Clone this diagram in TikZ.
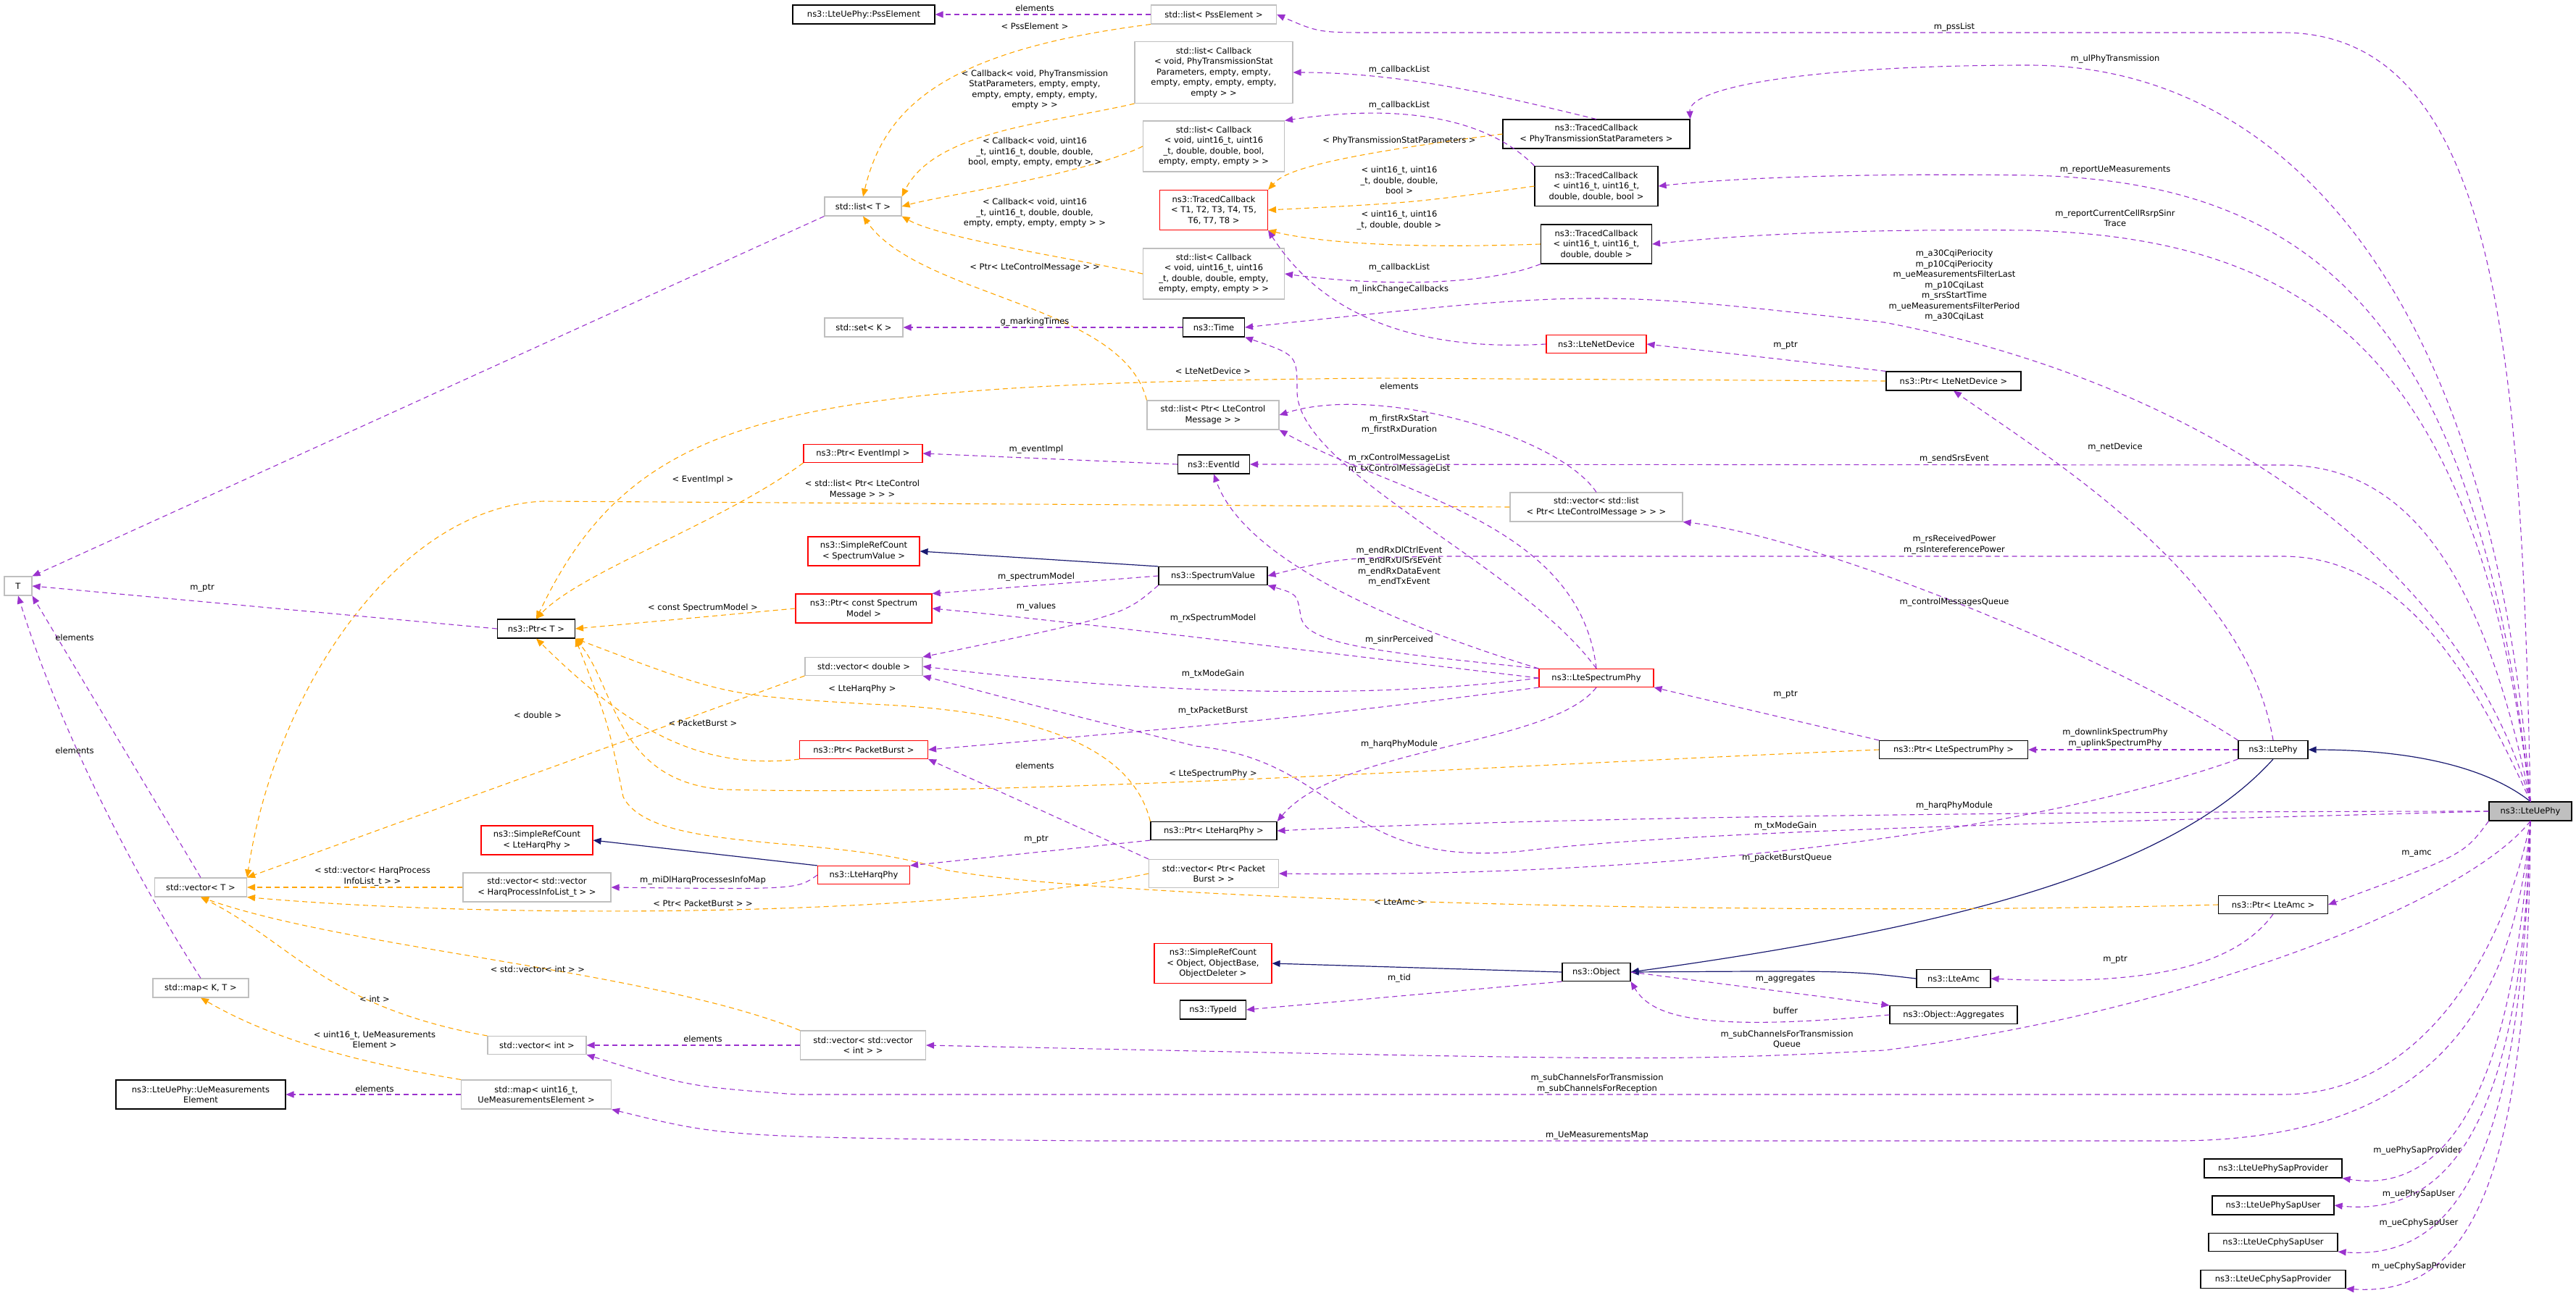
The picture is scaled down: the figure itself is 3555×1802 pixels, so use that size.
\documentclass[tikz,border=0pt]{standalone}
\usepackage{fontspec}
\setmainfont{DejaVu Sans}
\usetikzlibrary{arrows.meta}
\definecolor{mpurple}{HTML}{9A32CD}
\definecolor{morange}{HTML}{FFA500}
\definecolor{mnavy}{HTML}{191970}
\newcommand{\nf}{\fontsize{11.5}{14.5}\selectfont}
\tikzset{
 cls/.style={draw=black, fill=white, line width=1.1pt, inner sep=2pt, align=center, font=\nf},
 und/.style={cls, draw=black!25},
 trunc/.style={cls, draw=red},
 lbl/.style={font=\nf, align=center, inner sep=0pt},
 mem/.style={draw=mpurple, line width=1.1pt, dash pattern=on 7pt off 5pt, -{Triangle[length=11pt,width=9pt]}},
 tmpl/.style={draw=morange, line width=1.1pt, dash pattern=on 7pt off 5pt, -{Triangle[length=11pt,width=9pt]}},
 inh/.style={draw=mnavy, line width=1.2pt, -{Triangle[length=11pt,width=9pt]}}
}
\begin{document}
\begin{tikzpicture}[x=1pt,y=-1pt]
\useasboundingbox (0,0) rectangle (3555,1802);
% nodes
\node[cls,minimum width=196,minimum height=26] (pssel) at (1192,20) {ns3::LteUePhy::PssElement};
\node[und,minimum width=106,minimum height=26] (listT) at (1191,285) {std::list< T >};
\node[und,minimum width=108,minimum height=26] (setK) at (1192,452) {std::set< K >};
\node[und,minimum width=173,minimum height=26] (listPss) at (1675,20) {std::list< PssElement >};
\node[und,minimum width=218,minimum height=85] (listCbA) at (1675,100) {std::list< Callback\\< void, PhyTransmissionStat\\Parameters, empty, empty,\\empty, empty, empty, empty,\\empty > >};
\node[und,minimum width=195,minimum height=70] (listCbB) at (1675,202) {std::list< Callback\\< void, uint16\_t, uint16\\\_t, double, double, bool,\\empty, empty, empty > >};
\node[trunc,minimum width=149,minimum height=55] (tcT) at (1675,290) {ns3::TracedCallback\\< T1, T2, T3, T4, T5,\\T6, T7, T8 >};
\node[und,minimum width=195,minimum height=70] (listCbC) at (1675,378) {std::list< Callback\\< void, uint16\_t, uint16\\\_t, double, double, empty,\\empty, empty, empty > >};
\node[cls,minimum width=85,minimum height=26] (timeN) at (1675,452) {ns3::Time};
\node[cls,minimum width=258,minimum height=40] (tcA) at (2203,185) {ns3::TracedCallback\\< PhyTransmissionStatParameters >};
\node[cls,minimum width=170,minimum height=55] (tcB) at (2203,257) {ns3::TracedCallback\\< uint16\_t, uint16\_t,\\double, double, bool >};
\node[cls,minimum width=153,minimum height=54] (tcC) at (2203,337) {ns3::TracedCallback\\< uint16\_t, uint16\_t,\\double, double >};
\node[trunc,minimum width=138,minimum height=25] (netdev) at (2203,475) {ns3::LteNetDevice};
\node[und,minimum width=182,minimum height=40] (listMsg) at (1674,573) {std::list< Ptr< LteControl\\Message > >};
\node[cls,minimum width=186,minimum height=26] (ptrNet) at (2696,526) {ns3::Ptr< LteNetDevice >};
\node[und,minimum width=38,minimum height=26] (T) at (25,809) {T};
\node[cls,minimum width=107,minimum height=26] (ptrT) at (740,868) {ns3::Ptr< T >};
\node[trunc,minimum width=164,minimum height=25] (ptrEv) at (1191,626) {ns3::Ptr< EventImpl >};
\node[trunc,minimum width=154,minimum height=40] (srcSV) at (1192,761) {ns3::SimpleRefCount\\< SpectrumValue >};
\node[trunc,minimum width=188,minimum height=40] (ptrSM) at (1192,840) {ns3::Ptr< const Spectrum\\Model >};
\node[und,minimum width=162,minimum height=25] (vecD) at (1192,920) {std::vector< double >};
\node[trunc,minimum width=177,minimum height=25] (ptrPB) at (1192,1035) {ns3::Ptr< PacketBurst >};
\node[trunc,minimum width=154,minimum height=40] (srcHarq) at (741,1160) {ns3::SimpleRefCount\\< LteHarqPhy >};
\node[trunc,minimum width=127,minimum height=25] (harq) at (1192,1208) {ns3::LteHarqPhy};
\node[cls,minimum width=99,minimum height=26] (evid) at (1675,641) {ns3::EventId};
\node[und,minimum width=238,minimum height=40] (vecListMsg) at (2203,700) {std::vector< std::list\\< Ptr< LteControlMessage > > >};
\node[cls,minimum width=150,minimum height=25] (sv) at (1674,795) {ns3::SpectrumValue};
\node[trunc,minimum width=158,minimum height=25] (lsp) at (2203,936) {ns3::LteSpectrumPhy};
\node[cls,minimum width=174,minimum height=25] (ptrHarq) at (1675,1147) {ns3::Ptr< LteHarqPhy >};
\node[und,minimum width=179,minimum height=39] (vecPB) at (1675,1206) {std::vector< Ptr< Packet\\Burst > >};
\node[cls,minimum width=205,minimum height=25] (ptrLSP) at (2696,1035) {ns3::Ptr< LteSpectrumPhy >};
\node[cls,minimum width=96,minimum height=25] (ltephy) at (3137,1035) {ns3::LtePhy};
\node[cls,fill=black!25,minimum width=114,minimum height=26] (ue) at (3492,1120) {ns3::LteUePhy};
\node[und,minimum width=127,minimum height=26] (vecT) at (277,1225) {std::vector< T >};
\node[und,minimum width=204,minimum height=40] (vecVecHarq) at (741,1225) {std::vector< std::vector\\< HarqProcessInfoList\_t > >};
\node[und,minimum width=132,minimum height=26] (mapKT) at (277,1364) {std::map< K, T >};
\node[und,minimum width=136,minimum height=25] (vecInt) at (741,1443) {std::vector< int >};
\node[und,minimum width=173,minimum height=40] (vecVecInt) at (1191,1443) {std::vector< std::vector\\< int > >};
\node[cls,minimum width=234,minimum height=40] (uemeasEl) at (277,1511) {ns3::LteUePhy::UeMeasurements\\Element};
\node[und,minimum width=207,minimum height=40] (mapUe) at (740,1511) {std::map< uint16\_t,\\UeMeasurementsElement >};
\node[trunc,minimum width=162,minimum height=55] (srcObj) at (1674,1330) {ns3::SimpleRefCount\\< Object, ObjectBase,\\ObjectDeleter >};
\node[cls,minimum width=94,minimum height=25] (obj) at (2203,1342) {ns3::Object};
\node[cls,minimum width=91,minimum height=26] (typeid) at (1674,1394) {ns3::TypeId};
\node[cls,minimum width=151,minimum height=25] (ptrAmc) at (3137,1249) {ns3::Ptr< LteAmc >};
\node[cls,minimum width=102,minimum height=25] (amc) at (2696,1351) {ns3::LteAmc};
\node[cls,minimum width=176,minimum height=25] (aggr) at (2696,1401) {ns3::Object::Aggregates};
\node[cls,minimum width=190,minimum height=26] (sapA) at (3137,1613) {ns3::LteUePhySapProvider};
\node[cls,minimum width=168,minimum height=26] (sapB) at (3137,1664) {ns3::LteUePhySapUser};
\node[cls,minimum width=178,minimum height=25] (sapC) at (3137,1715) {ns3::LteUeCphySapUser};
\node[cls,minimum width=200,minimum height=25] (sapD) at (3137,1766) {ns3::LteUeCphySapProvider};

% navy inheritance
\draw[inh] (sv.north west) -- (srcSV.east);
\draw[inh] (harq.north west) -- (srcHarq.east);
\draw[inh] (obj.west) -- (srcObj.east);
\draw[inh] (ltephy.south) .. controls (3000,1200) and (2700,1280) .. (obj.east);
\draw[inh] (amc.west) .. controls (2550,1340) .. (obj.east);
\draw[inh] (ue.north) .. controls (3420,1050) and (3300,1035) .. (ltephy.east);

% orange templates
\draw[tmpl] (listPss.south west) .. controls (1300,70) and (1220,150) .. (listT.north);
\draw[tmpl] (listCbA.south west) .. controls (1450,170) and (1290,180) .. (listT.north east);
\draw[tmpl] (listCbB.west) .. controls (1500,240) and (1300,270) .. (listT.east);
\draw[tmpl] (listCbC.west) .. controls (1500,360) and (1300,330) .. (listT.south east);
\draw[tmpl] (listMsg.north west) .. controls (1550,420) and (1270,410) .. (listT.south);
\draw[tmpl] (tcA.west) .. controls (1800,220) and (1770,240) .. (tcT.north east);
\draw[tmpl] (tcB.west) .. controls (1950,280) .. (tcT.east);
\draw[tmpl] (tcC.west) .. controls (1900,345) and (1800,330) .. (tcT.south east);
\draw[tmpl] (ptrNet.west) -- (1900,522) .. controls (1100,530) and (880,560) .. (ptrT.north);
\draw[tmpl] (ptrEv.south west) .. controls (1000,720) and (800,790) .. (ptrT.north);
\draw[tmpl] (vecListMsg.west) -- (750,692) .. controls (550,700) and (380,950) .. (vecT.north east);
\draw[tmpl] (ptrSM.west) -- (ptrT.east);
\draw[tmpl] (vecD.south west) -- (vecT.north east);
\draw[tmpl] (ptrPB.south west) .. controls (960,1065) and (860,1000) .. (ptrT.south);
\draw[tmpl] (ptrHarq.north west) .. controls (1560,1020) and (1400,980) .. (1200,972) .. controls (1000,960) .. (ptrT.south east);
\draw[tmpl] (ptrLSP.west) .. controls (2000,1060) and (1400,1100) .. (1000,1090) .. controls (850,1080) and (850,950) .. (ptrT.south east);
\draw[tmpl] (ptrAmc.west) .. controls (2400,1267) and (1500,1240) .. (1300,1200) .. controls (1150,1150) and (900,1180) .. (860,1100) .. controls (840,1000) .. (ptrT.south east);
\draw[tmpl] (vecVecHarq.west) -- (vecT.east);
\draw[tmpl] (vecPB.west) .. controls (1300,1265) and (700,1270) .. (vecT.south east);
\draw[tmpl] (vecVecInt.north west) .. controls (900,1340) and (480,1310) .. (vecT.south);
\draw[tmpl] (vecInt.north west) .. controls (450,1390) and (400,1300) .. (vecT.south);
\draw[tmpl] (mapUe.north west) .. controls (450,1460) and (350,1420) .. (mapKT.south);

% purple members
\draw[mem] (listPss.west) -- (pssel.east);
\draw[mem] (ue.north) .. controls (3480,500) and (3450,45) .. (3150,45) -- (1900,45) .. controls (1820,45) .. (listPss.east);
\draw[mem] (listT.south west) -- (T.north east);
\draw[mem] (tcA.north) .. controls (2100,140) and (1950,100) .. (listCbA.east);
\draw[mem] (tcB.north west) .. controls (2060,170) and (1950,140) .. (listCbB.north east);
\draw[mem] (tcC.south west) .. controls (2050,395) and (1900,395) .. (listCbC.east);
\draw[mem] (ue.north) .. controls (3440,400) and (3150,90) .. (2800,90) .. controls (2500,90) and (2330,120) .. (tcA.north east);
\draw[mem] (ue.north) .. controls (3420,450) and (3200,250) .. (2800,242) .. controls (2500,238) and (2350,250) .. (tcB.east);
\draw[mem] (ue.north) .. controls (3420,500) and (3200,330) .. (2800,318) .. controls (2500,315) and (2350,330) .. (tcC.east);
\draw[mem] (ue.north) .. controls (3390,750) and (3000,520) .. (2600,445) .. controls (2200,400) .. (timeN.east);
\draw[mem] (timeN.west) -- (setK.east);
\draw[mem] (netdev.west) .. controls (1880,490) and (1790,380) .. (tcT.south east);
\draw[mem] (ptrNet.north west) -- (netdev.east);
\draw[mem] (ltephy.north) .. controls (3100,800) and (2840,640) .. (ptrNet.south);
\draw[mem] (vecListMsg.north) .. controls (2150,600) and (1900,530) .. (listMsg.east);
\draw[mem] (lsp.north) .. controls (2100,780) and (1790,650) .. (1790,540) .. controls (1790,490) .. (timeN.south east);
\draw[mem] (evid.west) -- (ptrEv.east);
\draw[mem] (lsp.north) .. controls (2180,720) and (1920,680) .. (listMsg.south east);
\draw[mem] (ue.north) .. controls (3420,750) and (3300,642) .. (3150,642) -- (evid.east);
\draw[mem] (lsp.north west) .. controls (1950,870) and (1720,780) .. (evid.south);
\draw[mem] (ltephy.north west) .. controls (2900,900) and (2500,740) .. (vecListMsg.south east);
\draw[mem] (ue.north) .. controls (3400,900) and (3300,768) .. (3150,768) -- (2000,768) .. controls (1850,770) .. (sv.east);
\draw[mem] (sv.west) -- (ptrSM.north east);
\draw[mem] (sv.south west) .. controls (1550,850) .. (vecD.north east);
\draw[mem] (lsp.west) .. controls (1900,910) and (1500,860) .. (ptrSM.east);
\draw[mem] (lsp.north west) .. controls (1900,900) and (1800,890) .. (1795,850) .. controls (1790,820) .. (sv.south east);
\draw[mem] (lsp.west) .. controls (1900,965) and (1600,960) .. (vecD.east);
\draw[mem] (lsp.south west) .. controls (1800,990) .. (ptrPB.east);
\draw[mem] (lsp.south) .. controls (2140,1030) and (1850,1030) .. (ptrHarq.north east);
\draw[mem] (ue.west) .. controls (3000,1120) and (2200,1125) .. (ptrHarq.east);
\draw[mem] (ptrLSP.north west) -- (lsp.south east);
\draw[mem] (ltephy.west) -- (ptrLSP.east);
\draw[mem] (ptrT.west) -- (T.east);
\draw[mem] (vecPB.north west) -- (ptrPB.south east);
\draw[mem] (ptrHarq.south west) -- (harq.north east);
\draw[mem] (harq.west) .. controls (1100,1228) .. (vecVecHarq.east);
\draw[mem] (ltephy.south west) .. controls (2800,1150) and (2300,1212) .. (vecPB.east);
\draw[mem] (ue.west) .. controls (2900,1135) and (2350,1145) .. (2100,1175) .. controls (1850,1200) and (1850,1050) .. (1650,1030) .. controls (1450,980) .. (vecD.south east);
\draw[mem] (vecT.north) -- (T.south east);
\draw[mem] (mapKT.north) .. controls (180,1200) and (80,1000) .. (T.south);
\draw[mem] (vecVecInt.west) -- (vecInt.east);
\draw[mem] (ue.south) .. controls (3460,1300) and (3350,1511) .. (3150,1511) -- (1100,1511) .. controls (950,1500) .. (vecInt.south east);
\draw[mem] (ue.south) .. controls (3400,1250) and (3000,1400) .. (2600,1450) .. controls (2300,1465) .. (vecVecInt.east);
\draw[mem] (mapUe.west) -- (uemeasEl.east);
\draw[mem] (ue.south) .. controls (3470,1400) and (3350,1575) .. (3000,1575) -- (1500,1575) .. controls (1000,1570) .. (mapUe.south east);
\draw[mem] (obj.south west) -- (typeid.east);
\draw[mem] (obj.east) -- (aggr.north west);
\draw[mem] (aggr.west) .. controls (2350,1425) and (2280,1405) .. (obj.south east);
\draw[mem] (ue.south west) .. controls (3400,1180) .. (ptrAmc.east);
\draw[mem] (ptrAmc.south) .. controls (3080,1340) and (2950,1360) .. (amc.east);
\draw[mem] (ue.south) .. controls (3470,1500) and (3380,1650) .. (sapA.south east);
\draw[mem] (ue.south) .. controls (3480,1550) and (3380,1680) .. (sapB.east);
\draw[mem] (ue.south) .. controls (3480,1600) and (3390,1740) .. (sapC.south east);
\draw[mem] (ue.south) .. controls (3490,1650) and (3400,1790) .. (sapD.south east);

% labels
\node[lbl] (l1) at (1428,11) {elements};
\node[lbl] (l2) at (1428,36) {< PssElement >};
\node[lbl] (l3) at (1428,124) {< Callback< void, PhyTransmission\\StatParameters, empty, empty,\\empty, empty, empty, empty,\\empty > >};
\node[lbl] (l4) at (1931,96) {m\_callbackList};
\node[lbl] (l5) at (1931,145) {m\_callbackList};
\node[lbl] (l6) at (1428,210) {< Callback< void, uint16\\\_t, uint16\_t, double, double,\\bool, empty, empty, empty > >};
\node[lbl] (l7) at (1931,194) {< PhyTransmissionStatParameters >};
\node[lbl] (l8) at (1931,249) {< uint16\_t, uint16\\\_t, double, double,\\bool >};
\node[lbl] (l9) at (1428,294) {< Callback< void, uint16\\\_t, uint16\_t, double, double,\\empty, empty, empty, empty > >};
\node[lbl] (l10) at (1931,304) {< uint16\_t, uint16\\\_t, double, double >};
\node[lbl] (l11) at (1428,369) {< Ptr< LteControlMessage > >};
\node[lbl] (l12) at (1931,369) {m\_callbackList};
\node[lbl] (l13) at (1931,399) {m\_linkChangeCallbacks};
\node[lbl] (l14) at (1428,444) {g\_markingTimes};
\node[lbl] (l15) at (1674,512) {< LteNetDevice >};
\node[lbl] (l16) at (1931,533) {elements};
\node[lbl] (l17) at (1931,586) {m\_firstRxStart\\m\_firstRxDuration};
\node[lbl] (l18) at (2697,37) {m\_pssList};
\node[lbl] (l19) at (2919,81) {m\_ulPhyTransmission};
\node[lbl] (l20) at (2919,235) {m\_reportUeMeasurements};
\node[lbl] (l21) at (2919,301) {m\_reportCurrentCellRsrpSinr\\Trace};
\node[lbl] (l22) at (2697,394) {m\_a30CqiPeriocity\\m\_p10CqiPeriocity\\m\_ueMeasurementsFilterLast\\m\_p10CqiLast\\m\_srsStartTime\\m\_ueMeasurementsFilterPeriod\\m\_a30CqiLast};
\node[lbl] (l23) at (2464,477) {m\_ptr};
\node[lbl] (l24) at (279,812) {m\_ptr};
\node[lbl] (l25) at (103,880) {elements};
\node[lbl] (l26) at (103,1036) {elements};
\node[lbl] (l27) at (970,662) {< EventImpl >};
\node[lbl] (l28) at (1190,676) {< std::list< Ptr< LteControl\\Message > > >};
\node[lbl] (l29) at (970,839) {< const SpectrumModel >};
\node[lbl] (l30) at (1190,951) {< LteHarqPhy >};
\node[lbl] (l31) at (742,987) {< double >};
\node[lbl] (l32) at (970,998) {< PacketBurst >};
\node[lbl] (l33) at (1430,620) {m\_eventImpl};
\node[lbl] (l34) at (1931,640) {m\_rxControlMessageList\\m\_txControlMessageList};
\node[lbl] (l35) at (1931,782) {m\_endRxDlCtrlEvent\\m\_endRxUlSrsEvent\\m\_endRxDataEvent\\m\_endTxEvent};
\node[lbl] (l36) at (1430,796) {m\_spectrumModel};
\node[lbl] (l37) at (1430,837) {m\_values};
\node[lbl] (l38) at (1674,853) {m\_rxSpectrumModel};
\node[lbl] (l39) at (1931,883) {m\_sinrPerceived};
\node[lbl] (l40) at (1674,930) {m\_txModeGain};
\node[lbl] (l41) at (1674,981) {m\_txPacketBurst};
\node[lbl] (l42) at (1931,1027) {m\_harqPhyModule};
\node[lbl] (l43) at (1428,1057) {elements};
\node[lbl] (l44) at (1674,1068) {< LteSpectrumPhy >};
\node[lbl] (l45) at (1430,1159) {m\_ptr};
\node[lbl] (l46) at (2919,617) {m\_netDevice};
\node[lbl] (l47) at (2697,633) {m\_sendSrsEvent};
\node[lbl] (l48) at (2697,752) {m\_rsReceivedPower\\m\_rsIntereferencePower};
\node[lbl] (l49) at (2697,831) {m\_controlMessagesQueue};
\node[lbl] (l50) at (2464,959) {m\_ptr};
\node[lbl] (l51) at (2919,1019) {m\_downlinkSpectrumPhy\\m\_uplinkSpectrumPhy};
\node[lbl] (l52) at (2697,1112) {m\_harqPhyModule};
\node[lbl] (l53) at (2464,1140) {m\_txModeGain};
\node[lbl] (l54) at (2466,1184) {m\_packetBurstQueue};
\node[lbl] (l55) at (3335,1179) {m\_amc};
\node[lbl] (l56) at (514,1210) {< std::vector< HarqProcess\\InfoList\_t > >};
\node[lbl] (l57) at (970,1215) {m\_miDlHarqProcessesInfoMap};
\node[lbl] (l58) at (970,1247) {< Ptr< PacketBurst > >};
\node[lbl] (l59) at (742,1338) {< std::vector< int > >};
\node[lbl] (l60) at (517,1379) {< int >};
\node[lbl] (l61) at (517,1435) {< uint16\_t, UeMeasurements\\Element >};
\node[lbl] (l62) at (970,1434) {elements};
\node[lbl] (l63) at (517,1503) {elements};
\node[lbl] (l64) at (1931,1245) {< LteAmc >};
\node[lbl] (l65) at (1931,1350) {m\_tid};
\node[lbl] (l66) at (2204,1496) {m\_subChannelsForTransmission\\m\_subChannelsForReception};
\node[lbl] (l67) at (2204,1568) {m\_UeMeasurementsMap};
\node[lbl] (l68) at (2919,1325) {m\_ptr};
\node[lbl] (l69) at (2464,1352) {m\_aggregates};
\node[lbl] (l70) at (2464,1395) {buffer};
\node[lbl] (l71) at (2466,1435) {m\_subChannelsForTransmission\\Queue};
\node[lbl] (l72) at (3336,1588) {m\_uePhySapProvider};
\node[lbl] (l73) at (3338,1648) {m\_uePhySapUser};
\node[lbl] (l74) at (3338,1688) {m\_ueCphySapUser};
\node[lbl] (l75) at (3338,1748) {m\_ueCphySapProvider};
\end{tikzpicture}
\end{document}
